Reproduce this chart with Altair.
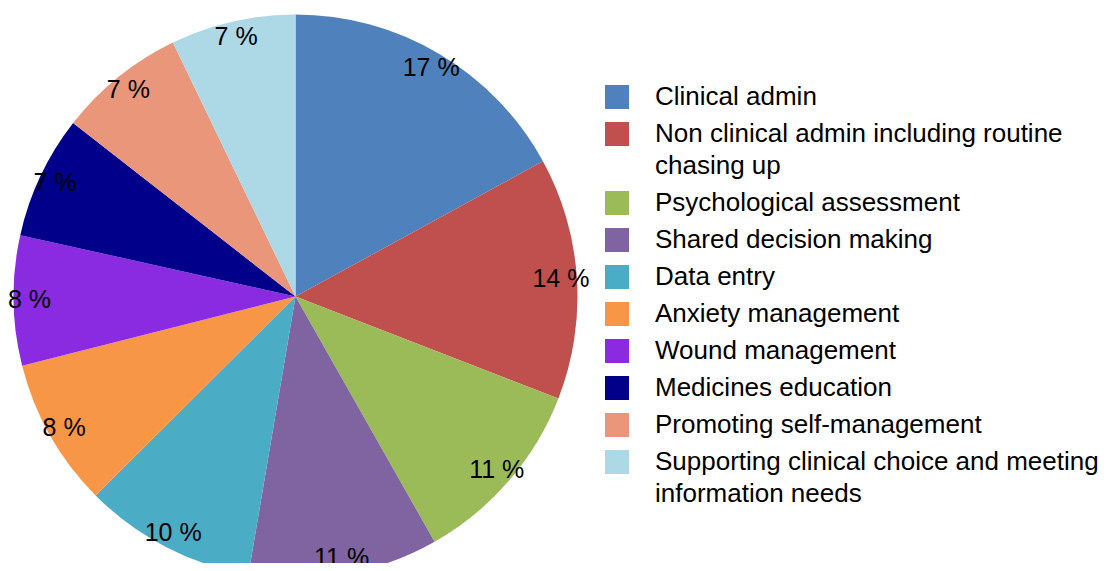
import altair as alt
import pandas as pd

categories = [
    "Clinical admin",
    "Non clinical admin including routine|chasing up",
    "Psychological assessment",
    "Shared decision making",
    "Data entry",
    "Anxiety management",
    "Wound management",
    "Medicines education",
    "Promoting self-management",
    "Supporting clinical choice and meeting|information needs",
]
values = [17.04, 13.85, 10.90, 10.88, 9.87, 8.51, 7.44, 7.05, 7.30, 7.16]
pct_labels = ["17 %", "14 %", "11 %", "11 %", "10 %", "8 %", "8 %", "7 %", "7 %", "7 %"]
colors = ["#4F81BD", "#C0504D", "#9BBB59", "#8064A2", "#4BACC6",
          "#F79646", "#8A2BE2", "#00008B", "#E9967A", "#ADD8E6"]

df = pd.DataFrame({
    "category": categories,
    "value": values,
    "label": pct_labels,
    "order": list(range(len(categories))),
})

FONT = "Liberation Sans"

base = alt.Chart(df).encode(
    theta=alt.Theta("value:Q", stack=True),
    order=alt.Order("order:Q"),
    x=alt.value(287.5),
    y=alt.value(288.5),
)

pie = base.mark_arc(outerRadius=282).encode(
    color=alt.Color(
        "category:N",
        sort=categories,
        scale=alt.Scale(domain=categories, range=colors),
        legend=alt.Legend(
            orient="none",
            legendX=596,
            legendY=76,
            title=None,
            symbolType="square",
            symbolSize=576,
            symbolStrokeWidth=0,
            labelFont=FONT,
            labelFontSize=26,
            labelColor="#000000",
            labelOffset=25,
            labelLimit=700,
            rowPadding=11,
            labelExpr="split(datum.label, '|')",
        ),
    )
)

text = base.mark_text(radius=266, font=FONT, fontSize=25, color="#000000").encode(
    text="label:N"
)

chart = (
    alt.layer(pie, text)
    .properties(
        width=1096,
        height=555,
        autosize=alt.AutoSizeParams(type="none"),
        padding=0,
    )
    .configure(
        style={"guide-label": {"lineHeight": 32}},
        view=alt.ViewConfig(stroke=None),
    )
)

chart.save("out.html", embed_options={"renderer": "svg", "actions": False})
